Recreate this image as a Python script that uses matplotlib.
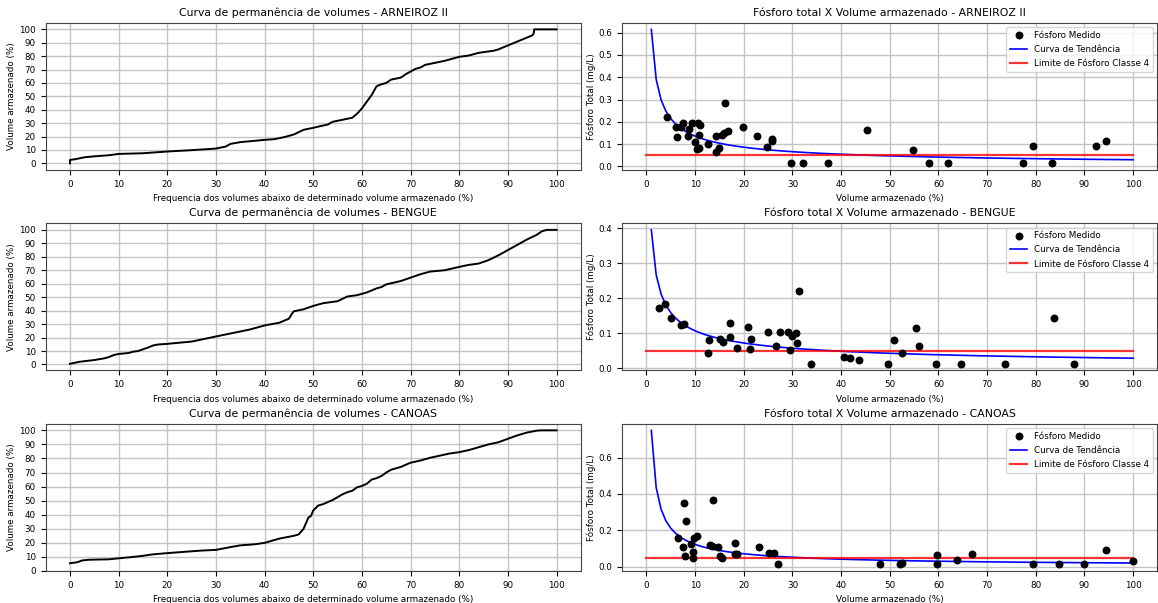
import numpy as np
import matplotlib
matplotlib.use("Agg")
import matplotlib.pyplot as plt

plt.rcParams['font.size'] = 6.3
plt.rcParams['axes.titlesize'] = 7.8
plt.rcParams['grid.color'] = '#c4c4c4'
plt.rcParams['grid.linewidth'] = 1.0
plt.rcParams['axes.edgecolor'] = '#444444'

reservoirs = ['ARNEIROZ II', 'BENGUE', 'CANOAS']

# curva de permanencia (frequencia %, volume %)
arn_freq = [0, 0, 1, 3, 5, 8, 10, 15, 20, 25, 30, 32, 33, 35, 38, 40, 42, 44, 46, 48, 50,
            53, 54, 56, 58, 59, 60, 61, 62, 63, 64, 65, 66, 68, 69, 70, 71, 72, 73, 75,
            77, 79, 80, 82, 84, 87, 88, 90, 92, 94, 95, 95.3, 95.4, 100]
arn_vol = [0, 2.5, 3, 4.5, 5.2, 6, 7, 7.5, 8.8, 9.8, 11, 12.5, 14.5, 15.8, 16.8, 17.5, 18,
           19.5, 21.5, 25, 26.5, 29, 31, 32.5, 34, 37, 41, 46, 51, 57.5, 59, 60, 62.5, 64,
           66.5, 68.5, 70.5, 71.5, 73.5, 75, 76.5, 78.5, 79.5, 80.5, 82.5, 84, 85, 88, 91,
           94, 95.5, 97, 100, 100]

ben_freq = [0, 2, 5, 7, 8, 9, 10, 12, 13, 14, 16, 17, 18, 20, 22, 25, 27, 30, 33, 35, 37,
            39, 40, 43, 44, 45, 45.5, 46, 48, 50, 52, 55, 57, 59, 61, 63, 64, 65, 68, 70,
            72, 74, 77, 80, 82, 84, 86, 88, 90, 92, 94, 96, 97, 98, 100]
ben_vol = [0.5, 2, 3.3, 4.5, 5.5, 7, 7.8, 8.5, 9.5, 10, 12.5, 14, 14.8, 15.3, 16, 17, 18.5,
           20.8, 23, 24.5, 26, 28, 29, 31, 32.5, 34, 37, 39.5, 41, 43.5, 45.5, 47, 50.5,
           51.5, 53.5, 56.5, 57.5, 59.5, 62, 64.5, 67, 69, 70, 72.5, 74, 75, 77.5, 81, 85,
           89, 93, 96.5, 99, 100, 100]

can_freq = [0, 1.5, 2.5, 4, 8, 10, 13, 15, 17, 20, 25, 27, 30, 33, 35, 38, 40, 42, 43, 46,
            47, 48, 49, 49.5, 50, 51, 52, 54, 56, 57, 58, 59, 60, 61, 62, 63, 64, 65, 66,
            68, 69, 70, 72, 74, 76, 78, 80, 82, 84, 86, 88, 90, 92, 94, 96, 97, 100]
can_vol = [5.5, 6.2, 7.5, 8, 8.3, 9, 10, 10.8, 11.8, 12.7, 14, 14.5, 15, 17, 18.2, 19, 20,
           22, 23, 25, 26, 30, 38, 39, 43, 46.5, 47.5, 50.5, 54.5, 56, 57, 59.5, 60.5, 62,
           65, 66, 67.5, 70, 72, 74, 75.5, 77, 78.5, 80.5, 82, 83.5, 84.5, 86, 88, 90,
           91.5, 94, 96.5, 98.5, 99.8, 100, 100]

# fosforo medido (volume %, mg/L)
arn_px = [4.2, 6.1, 6.3, 7.5, 7.0, 8.8, 8.5, 9.3, 10.0, 10.3, 10.8, 10.5, 10.7, 11.1, 12.7,
          14.2, 14.3, 14.9, 15.5, 15.9, 16.2, 16.8, 19.9, 22.7, 24.7, 25.7, 25.8, 29.7,
          32.2, 37.3, 45.4, 54.8, 58.1, 62.0, 77.4, 79.4, 83.3, 92.3, 94.5]
arn_py = [0.223, 0.175, 0.131, 0.195, 0.175, 0.167, 0.136, 0.195, 0.110, 0.080, 0.084,
          0.193, 0.142, 0.185, 0.101, 0.065, 0.136, 0.081, 0.140, 0.152, 0.285, 0.160,
          0.176, 0.136, 0.087, 0.125, 0.116, 0.014, 0.014, 0.014, 0.164, 0.072, 0.014,
          0.014, 0.014, 0.092, 0.014, 0.090, 0.116]

ben_px = [2.6, 3.8, 5.1, 7.0, 7.8, 12.8, 12.7, 15.1, 15.8, 17.2, 17.1, 18.7, 20.8, 21.2,
          21.4, 25.0, 26.7, 27.5, 29.0, 29.5, 29.9, 30.8, 31.0, 31.3, 33.8, 40.6, 41.8,
          43.7, 49.6, 50.8, 52.6, 55.4, 56.0, 59.4, 64.7, 73.7, 83.8, 87.8]
ben_py = [0.171, 0.183, 0.145, 0.125, 0.127, 0.080, 0.044, 0.084, 0.076, 0.129, 0.090,
          0.059, 0.117, 0.055, 0.085, 0.103, 0.064, 0.103, 0.103, 0.052, 0.093, 0.100,
          0.071, 0.221, 0.013, 0.033, 0.029, 0.025, 0.013, 0.082, 0.045, 0.115, 0.064,
          0.013, 0.013, 0.013, 0.144, 0.013]

can_px = [6.5, 7.7, 7.6, 7.9, 8.2, 9.1, 9.5, 9.5, 9.8, 10.3, 13.0, 13.4, 13.7, 14.7, 15.2,
          15.6, 18.1, 18.2, 18.7, 23.1, 25.2, 26.2, 27.0, 48.0, 52.2, 52.6, 59.7, 59.7,
          63.9, 66.9, 79.5, 84.7, 90.0, 94.5, 99.9]
can_py = [0.156, 0.350, 0.106, 0.061, 0.250, 0.125, 0.081, 0.050, 0.160, 0.167, 0.119,
          0.114, 0.369, 0.106, 0.057, 0.046, 0.132, 0.070, 0.072, 0.110, 0.075, 0.077,
          0.015, 0.015, 0.015, 0.022, 0.066, 0.013, 0.037, 0.070, 0.015, 0.015, 0.015,
          0.092, 0.033]

# curva de tendencia y = a * x^b
trend_a = [0.615, 0.395, 0.75]
trend_b = [-0.656, -0.567, -0.787]
limite_p = 0.05

freqs = [arn_freq, ben_freq, can_freq]
vols = [arn_vol, ben_vol, can_vol]
pxs = [arn_px, ben_px, can_px]
pys = [arn_py, ben_py, can_py]

fig, axes = plt.subplots(3, 2, figsize=(11.58, 6.03), dpi=100)
fig.subplots_adjust(left=0.0394, right=0.9995, top=0.9624, bottom=0.0531,
                    hspace=0.361, wspace=0.077)

for i, nome in enumerate(reservoirs):
    ax = axes[i, 0]
    ax.plot(freqs[i], vols[i], color='black', lw=1.4)
    ax.set_xticks(np.arange(0, 101, 10))
    ax.set_yticks(np.arange(0, 101, 10))
    if nome == 'CANOAS':
        ax.set_ylim(0, 104.75)
    ax.grid(True)
    ax.set_title('Curva de permanência de volumes - ' + nome, pad=5)
    ax.set_xlabel('Frequencia dos volumes abaixo de determinado volume armazenado (%)')
    ax.set_ylabel('Volume armazenado (%)', labelpad=2)

    ax = axes[i, 1]
    xt = np.arange(1, 101)
    ax.scatter(pxs[i], pys[i], color='black', s=22, label='Fósforo Medido', zorder=3)
    ax.plot(xt, trend_a[i] * xt ** trend_b[i], color='blue', lw=1.2, label='Curva de Tendência')
    ax.plot([0, 100], [limite_p, limite_p], color='red', lw=1.6, alpha=0.8,
            label='Limite de Fósforo Classe 4')
    ax.set_xticks(np.arange(0, 101, 10))
    ax.grid(True)
    ax.legend(loc='upper right', labelspacing=0.6)
    ax.set_title('Fósforo total X Volume armazenado - ' + nome, pad=5)
    ax.set_xlabel('Volume armazenado (%)')
    ax.set_ylabel('Fósforo Total (mg/L)', labelpad=2)

fig.savefig('out.png', dpi=100)
